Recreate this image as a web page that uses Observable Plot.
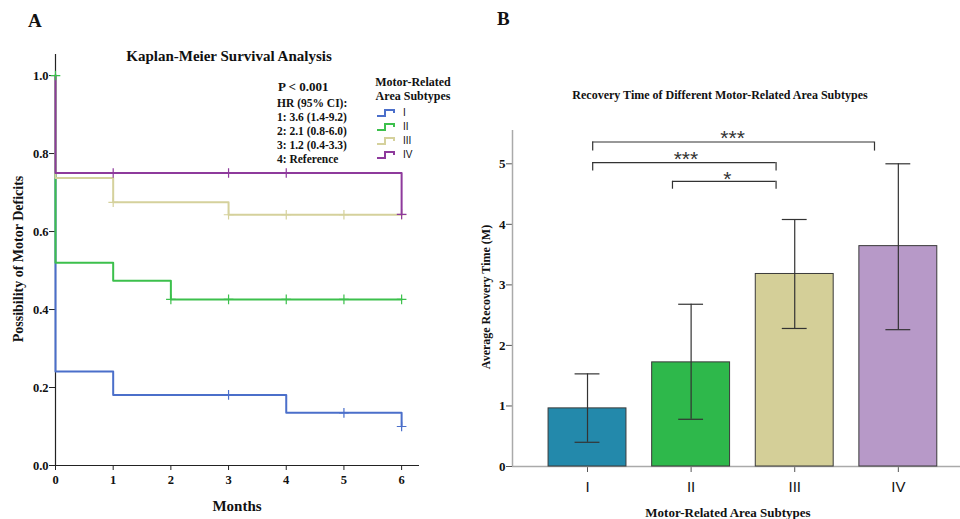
<!DOCTYPE html>
<html>
<head>
<meta charset="utf-8">
<script src="https://cdn.jsdelivr.net/npm/d3@7"></script>
<script src="https://cdn.jsdelivr.net/npm/@observablehq/plot@0.6"></script>
<style>
  body { margin: 0; background: #fff; overflow: hidden; }
  #wrap { position: relative; width: 960px; height: 519px; font-family: "Liberation Serif", "Times New Roman", serif; color: #111; }
  .abs { position: absolute; white-space: nowrap; font-weight: bold; line-height: 1; }
  .panel { position: absolute; top: 0; }
</style>
</head>
<body>
<div id="wrap">
  <div id="left" class="panel" style="left:0"></div>
  <div id="right" class="panel" style="left:480px"></div>
</div>
<script>
// ---------- Panel A: Kaplan-Meier data ----------
const subtypes = ["I", "II", "III", "IV"];
const months = [0, 1, 2, 3, 4, 5, 6];
const survTicks = [0, 0.2, 0.4, 0.6, 0.8, 1.0];
const kmColors = ["#4b6fca", "#3cc04c", "#d5d19c", "#8e3a9c"];

const timeI = [0, 0, 1, 4, 6];
const survI = [1, 0.241, 0.181, 0.135, 0.100];
const timeII = [0, 0, 1, 2, 6];
const survII = [1, 0.520, 0.474, 0.426, 0.426];
const timeIII = [0, 0, 1, 3, 6];
const survIII = [1, 0.737, 0.675, 0.643, 0.643];
const timeIV = [0, 0, 6];
const survIV = [1, 0.750, 0.644];

const censorTimeI = [3, 5, 6];
const censorSurvI = [0.181, 0.135, 0.100];
const censorTimeII = [0, 2, 3, 4, 5, 6];
const censorSurvII = [1, 0.426, 0.426, 0.426, 0.426, 0.426];
const censorTimeIII = [1, 3, 4, 5, 6];
const censorSurvIII = [0.675, 0.643, 0.643, 0.643, 0.643];
const censorTimeIV = [1, 3, 4, 6];
const censorSurvIV = [0.750, 0.750, 0.750, 0.644];

const hrLines = ["HR (95% CI):", "1: 3.6 (1.4-9.2)", "2: 2.1 (0.8-6.0)", "3: 1.2 (0.4-3.3)", "4: Reference"];

// ---------- Panel B: bar data ----------
const subtypePos = [1, 2, 3, 4];
const barColors = ["#2389ab", "#2eb84b", "#d4cf98", "#b799c8"];
const recoveryMean = [0.96, 1.72, 3.18, 3.64];
const recoveryLow = [0.40, 0.78, 2.28, 2.26];
const recoveryHigh = [1.53, 2.68, 4.08, 5.00];
const recoveryTicks = [0, 1, 2, 3, 4, 5];

const bracketX1 = [1.05, 1.05, 1.82];
const bracketX2 = [3.77, 2.82, 2.82];
const bracketY = [5.36, 5.02, 4.71];
const bracketLegY = [5.21, 4.88, 4.58];
const bracketLabel = ["***", "***", "*"];
const bracketLabelX = [2.40, 1.95, 2.35];
const bracketLabelY = [5.52, 5.17, 4.84];

// ---------- build tables ----------
const kmSeries = [[timeI, survI], [timeII, survII], [timeIII, survIII], [timeIV, survIV]];
const kmData = kmSeries.flatMap(([t, s], i) => t.map((tv, j) => ({group: subtypes[i], t: tv, s: s[j]})));
const censorSeries = [[censorTimeI, censorSurvI], [censorTimeII, censorSurvII], [censorTimeIII, censorSurvIII], [censorTimeIV, censorSurvIV]];
const censorData = censorSeries.flatMap(([t, s], i) => t.map((tv, j) => ({group: subtypes[i], t: tv, s: s[j]})));

const barData = subtypes.map((g, i) => ({group: g, pos: subtypePos[i], mean: recoveryMean[i], low: recoveryLow[i], high: recoveryHigh[i]}));
const brackets = bracketX1.map((x1, i) => ({x1, x2: bracketX2[i], y: bracketY[i], legY: bracketLegY[i], label: bracketLabel[i], lx: bracketLabelX[i], ly: bracketLabelY[i]}));

const serif = "Liberation Serif, Times New Roman, serif";
const sans = "Liberation Sans, Arial, sans-serif";

// ---------- Panel A plot ----------
const kmXDomain = [0, 6.31];
const kmYDomain = [0, 1.054];
const left = Plot.plot({
  width: 480, height: 519,
  marginLeft: 55, marginRight: 61, marginTop: 54, marginBottom: 54,
  x: {domain: kmXDomain},
  y: {domain: kmYDomain},
  color: {domain: subtypes, range: kmColors},
  style: {fontFamily: serif, fontWeight: "bold", fontSize: "12.5px", color: "#111", background: "transparent"},
  marks: [
    Plot.axisY({ticks: survTicks, tickFormat: d3.format(".1f"), tickSize: 6, tickPadding: 1, label: null, stroke: "#222"}),
    Plot.axisX({ticks: months, tickFormat: d => d, tickSize: 5, tickPadding: 5, label: null, stroke: "#222"}),
    Plot.ruleX([kmXDomain[0]], {stroke: "#222", strokeWidth: 1.2}),
    Plot.ruleY([kmYDomain[0]], {stroke: "#222", strokeWidth: 1.2}),
    Plot.line(kmData, {x: "t", y: "s", z: "group", stroke: "group", curve: "step-after", strokeWidth: 2}),
    Plot.dot(censorData, {x: "t", y: "s", stroke: "group", symbol: "plus", r: 3.2, strokeWidth: 1.2})
  ]
});
document.getElementById("left").appendChild(left);

// ---------- Panel B plot ----------
const barXDomain = [0.276, 4.6];
const barYDomain = [0, 5.55];
const right = Plot.plot({
  width: 480, height: 519,
  marginLeft: 32, marginRight: 0, marginTop: 130, marginBottom: 53,
  x: {domain: barXDomain},
  y: {domain: barYDomain},
  color: {domain: subtypes, range: barColors},
  style: {fontFamily: serif, fontWeight: "bold", fontSize: "13px", color: "#111", background: "transparent"},
  marks: [
    Plot.axisY({ticks: recoveryTicks, tickFormat: d => d, tickSize: 6, tickPadding: 1, label: null, stroke: "#555"}),
    Plot.axisX({ticks: subtypePos, tickFormat: p => subtypes[p - 1], tickSize: 6, tickPadding: 9, label: null, stroke: "#555",
      fontFamily: sans, fontWeight: "normal", fontSize: 15}),
    Plot.ruleX([barXDomain[0]], {stroke: "#aaa", strokeWidth: 1.5}),
    Plot.ruleY([barYDomain[0]], {stroke: "#aaa", strokeWidth: 1.5}),
    Plot.rectY(barData, {x1: d => d.pos - 0.376, x2: d => d.pos + 0.376, y: "mean", fill: "group", stroke: "#3a3a3a", strokeWidth: 1}),
    Plot.ruleX(barData, {x: "pos", y1: "low", y2: "high", stroke: "#333", strokeWidth: 1.2}),
    Plot.ruleY(barData, {y: "high", x1: d => d.pos - 0.12, x2: d => d.pos + 0.12, stroke: "#333", strokeWidth: 1.2}),
    Plot.ruleY(barData, {y: "low", x1: d => d.pos - 0.12, x2: d => d.pos + 0.12, stroke: "#333", strokeWidth: 1.2}),
    Plot.ruleY(brackets, {y: "y", x1: "x1", x2: "x2", stroke: "#333", strokeWidth: 1.2}),
    Plot.ruleX(brackets, {x: "x1", y1: "legY", y2: "y", stroke: "#333", strokeWidth: 1.2}),
    Plot.ruleX(brackets, {x: "x2", y1: "legY", y2: "y", stroke: "#333", strokeWidth: 1.2}),
    Plot.text(brackets, {x: "lx", y: "ly", text: "label", fontFamily: sans, fontWeight: "normal", fontSize: 21, fill: "#333", dy: 6})
  ]
});
document.getElementById("right").appendChild(right);

// ---------- HTML text overlays ----------
const wrap = document.getElementById("wrap");
function addText(txt, css) {
  const el = document.createElement("div");
  el.className = "abs";
  el.textContent = txt;
  Object.assign(el.style, css);
  wrap.appendChild(el);
  return el;
}
addText("A", {left: "28px", top: "11px", fontSize: "19px"});
addText("B", {left: "497px", top: "9px", fontSize: "19px"});
addText("Kaplan-Meier Survival Analysis", {left: "229px", top: "49px", fontSize: "15px", transform: "translateX(-50%)"});
addText("P < 0.001", {left: "278px", top: "80px", fontSize: "13px"});
hrLines.forEach((t, i) => addText(t, {left: "277px", top: (98 + i * 14) + "px", fontSize: "11.5px"}));
addText("Motor-Related", {left: "413px", top: "76px", fontSize: "12px", transform: "translateX(-50%)"});
addText("Area Subtypes", {left: "413px", top: "90px", fontSize: "12px", transform: "translateX(-50%)"});
addText("Possibility of Motor Deficits", {left: "19px", top: "259px", fontSize: "14px", transform: "translate(-50%,-50%) rotate(-90deg)"});
addText("Months", {left: "237px", top: "499px", fontSize: "15px", transform: "translateX(-50%)"});
addText("Recovery Time of Different Motor-Related Area Subtypes", {left: "720px", top: "89px", fontSize: "12px", transform: "translateX(-50%)"});
addText("Average Recovery Time (M)", {left: "486px", top: "297px", fontSize: "12px", transform: "translate(-50%,-50%) rotate(-90deg)"});
addText("Motor-Related Area Subtypes", {left: "728px", top: "506px", fontSize: "13px", transform: "translateX(-50%)"});

// legend for panel A
const legend = d3.select(wrap).append("svg")
  .style("position", "absolute").style("left", "374px").style("top", "104px")
  .attr("width", 80).attr("height", 60);
subtypes.forEach((g, i) => {
  const y0 = 4 + i * 14;
  legend.append("path")
    .attr("d", `M3,${y0 + 8} H11 V${y0 + 2} H20 V${y0 + 5}`)
    .attr("fill", "none").attr("stroke", kmColors[i]).attr("stroke-width", 2);
  legend.append("text").attr("x", 29).attr("y", y0 + 8)
    .attr("font-family", sans).attr("font-size", 10).attr("fill", "#111").text(g);
});
</script>
</body>
</html>
